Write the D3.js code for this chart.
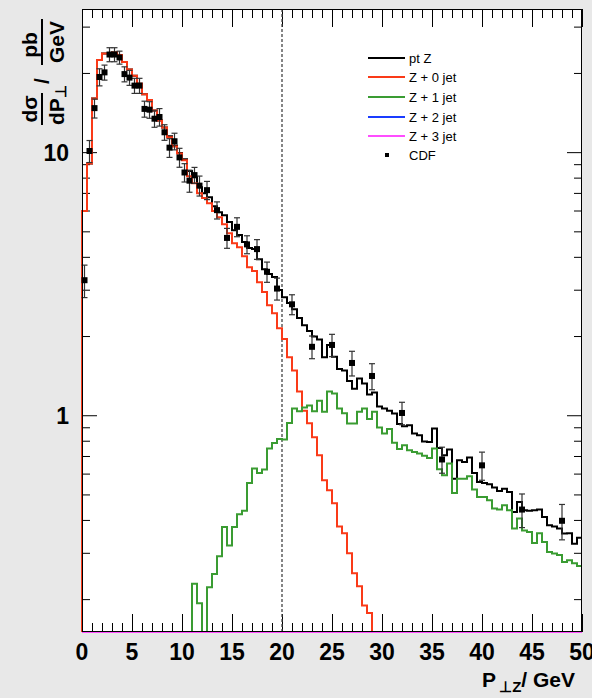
<!DOCTYPE html>
<html>
<head>
<meta charset="utf-8">
<script src="https://cdn.jsdelivr.net/npm/d3@7"></script>
<style>
body { margin: 0; background: #e8e8e8; }
svg { display: block; font-family: "Liberation Sans", Arial, Helvetica, sans-serif; }
</style>
</head>
<body>
<div id="main"></div>
<script>
// histogram bins: 0.5 GeV wide, from 0 to 50 GeV
const binWidth = 0.5;

const ptZ = [
  5.98, 9.06, 16.0, 22.4, 23.7, 23.7, 23.9, 23.4, 22.0, 20.6,
  19.5, 18.2, 16.6, 15.8, 14.4, 13.2, 12.4, 11.5, 10.6, 9.92,
  9.4, 8.47, 8.03, 7.36, 6.98, 6.74, 6.23, 5.91, 5.76, 5.42,
  5.05, 4.84, 4.55, 4.32, 4.28, 3.92, 3.59, 3.44, 3.35, 2.99,
  2.81, 2.67, 2.53, 2.34, 2.20, 2.09, 1.99, 1.94, 1.66, 1.85,
  1.67, 1.50, 1.48, 1.35, 1.26, 1.38, 1.32, 1.20, 1.22, 1.08,
  1.06, 1.04, 1.015, 0.927, 0.908, 0.916, 0.852, 0.839, 0.795, 0.792,
  0.890, 0.75, 0.705, 0.741, 0.574, 0.674, 0.664, 0.691, 0.603, 0.558,
  0.553, 0.547, 0.531, 0.515, 0.526, 0.511, 0.429, 0.468, 0.435, 0.433,
  0.435, 0.438, 0.410, 0.382, 0.378, 0.371, 0.355, 0.356, 0.325, 0.342
];

const zJet0 = [
  5.98, 9.06, 16.0, 22.4, 23.7, 23.7, 23.9, 23.4, 22.0, 20.6,
  19.5, 18.2, 16.6, 15.8, 14.4, 13.2, 12.4, 11.4, 10.5, 9.89,
  9.32, 8.10, 7.62, 6.98, 6.69, 6.40, 5.97, 5.66, 5.32, 4.92,
  4.51, 4.35, 4.02, 3.65, 3.53, 3.20, 2.94, 2.62, 2.44, 2.14,
  1.95, 1.66, 1.48, 1.23, 1.04, 0.932, 0.825, 0.705, 0.566, 0.519,
  0.463, 0.378, 0.356, 0.299, 0.251, 0.224, 0.189, 0.177, 0, 0,
  0, 0, 0, 0, 0, 0, 0, 0, 0, 0,
  0, 0, 0, 0, 0, 0, 0, 0, 0, 0,
  0, 0, 0, 0, 0, 0, 0, 0, 0, 0,
  0, 0, 0, 0, 0, 0, 0, 0, 0, 0
];

const zJet1 = [
  0, 0, 0, 0, 0, 0, 0, 0, 0, 0,
  0, 0, 0, 0, 0, 0, 0, 0, 0, 0,
  0, 0, 0.229, 0.193, 0, 0.222, 0.249, 0.291, 0.376, 0.320,
  0.376, 0.420, 0.433, 0.553, 0.627, 0.603, 0.622, 0.747, 0.785, 0.813,
  0.809, 0.935, 1.06, 1.035, 1.07, 1.09, 1.035, 1.135, 1.03, 1.23,
  1.21, 1.06, 1.018, 0.930, 0.930, 1.03, 1.06, 0.967, 1.03, 0.899,
  0.852, 0.886, 0.786, 0.744, 0.769, 0.736, 0.725, 0.715, 0.701, 0.688,
  0.747, 0.623, 0.591, 0.655, 0.506, 0.574, 0.574, 0.586, 0.522, 0.489,
  0.489, 0.475, 0.442, 0.438, 0.455, 0.435, 0.371, 0.405, 0.365, 0.360,
  0.327, 0.356, 0.330, 0.302, 0.298, 0.294, 0.277, 0.281, 0.274, 0.267
];

// Z+2 and Z+3 jets stay below the lower edge of the plot
const zJet2 = [
  0, 0, 0, 0, 0, 0, 0, 0, 0, 0, 0, 0, 0, 0, 0, 0, 0, 0, 0, 0,
  0, 0, 0, 0, 0, 0, 0, 0, 0, 0, 0, 0, 0, 0, 0, 0, 0, 0, 0, 0,
  0, 0, 0, 0, 0, 0, 0, 0, 0, 0, 0, 0, 0, 0, 0, 0, 0, 0, 0, 0,
  0, 0, 0, 0, 0, 0, 0, 0, 0, 0, 0, 0, 0, 0, 0, 0, 0, 0, 0, 0,
  0, 0, 0, 0, 0, 0, 0, 0, 0, 0, 0, 0, 0, 0, 0, 0, 0, 0, 0, 0
];
const zJet3 = [
  0, 0, 0, 0, 0, 0, 0, 0, 0, 0, 0, 0, 0, 0, 0, 0, 0, 0, 0, 0,
  0, 0, 0, 0, 0, 0, 0, 0, 0, 0, 0, 0, 0, 0, 0, 0, 0, 0, 0, 0,
  0, 0, 0, 0, 0, 0, 0, 0, 0, 0, 0, 0, 0, 0, 0, 0, 0, 0, 0, 0,
  0, 0, 0, 0, 0, 0, 0, 0, 0, 0, 0, 0, 0, 0, 0, 0, 0, 0, 0, 0,
  0, 0, 0, 0, 0, 0, 0, 0, 0, 0, 0, 0, 0, 0, 0, 0, 0, 0, 0, 0
];

// CDF data points
const cdfX = [0.25, 0.75, 1.25, 1.75, 2.25, 2.75, 3.25, 3.75, 4.25, 4.75,
  5.25, 5.75, 6.25, 6.75, 7.25, 7.75, 8.25, 8.75, 9.25, 9.75,
  10.25, 10.75, 11.25, 11.75, 12.5, 13.5, 14.5, 15.5, 16.5, 17.5,
  18.5, 19.5, 21, 23, 25, 27, 29, 32, 36, 40, 44, 48];
const cdfY = [3.26, 10.1, 14.7, 19.3, 20.1, 23.5, 23.5, 22.9, 19.8, 19.2,
  17.9, 17.9, 14.6, 14.5, 13.4, 13.6, 11.9, 10.4, 11.0, 9.55,
  8.37, 7.79, 8.18, 7.46, 7.17, 6.02, 4.72, 5.20, 4.46, 4.28,
  3.51, 3.03, 2.64, 1.82, 1.85, 1.58, 1.41, 1.02, 0.679, 0.645, 0.438, 0.397];
const cdfErr = [0.46, 0.97, 1.22, 1.44, 1.32, 1.44, 1.44, 1.3, 1.3, 1.26,
  1.18, 1.18, 1.02, 1.05, 0.97, 1.04, 0.81, 0.85, 0.80, 0.79,
  0.67, 0.75, 0.57, 0.65, 0.57, 0.45, 0.41, 0.43, 0.35, 0.37,
  0.31, 0.29, 0.23, 0.18, 0.18, 0.17, 0.16, 0.10, 0.077, 0.079, 0.064, 0.061];

const xMajorTicks = [0, 5, 10, 15, 20, 25, 30, 35, 40, 45, 50];
const yMajorTicks = [1, 10];
const yMinorTicks = [0.2, 0.3, 0.4, 0.5, 0.6, 0.7, 0.8, 0.9, 2, 3, 4, 5, 6, 7, 8, 9, 20, 30];
const cutValue = 20;

const seriesNames = ["pt Z", "Z + 0 jet", "Z + 1 jet", "Z + 2 jet", "Z + 3 jet"];
const seriesData = [ptZ, zJet0, zJet1, zJet2, zJet3];
const seriesColors = ["#000000", "#fa3a18", "#3a9c32", "#1a3cff", "#ff4dff"];

const W = 592, H = 698;
const margin = {top: 9, right: 10, bottom: 66, left: 82};
const plotW = W - margin.left - margin.right;
const plotH = H - margin.top - margin.bottom;

const svg = d3.select("#main").append("svg")
    .attr("width", W)
    .attr("height", H);

svg.append("rect").attr("width", W).attr("height", H).attr("fill", "#e8e8e8");

const g = svg.append("g")
    .attr("transform", "translate(" + margin.left + "," + margin.top + ")");

const x = d3.scaleLinear().domain([0, 50]).range([0, plotW]);
const y = d3.scaleLog().domain([0.15, 35]).range([plotH, 0]);

g.append("rect")
    .attr("width", plotW).attr("height", plotH)
    .attr("fill", "white");

// clamp into the frame, values below range sit on the lower edge
function yc(v){
    if (v <= y.domain()[0]) return plotH;
    return Math.max(0, y(v));
}

function histPath(vals){
    let pts = [[x(0), plotH]];
    vals.forEach((v, i) => {
        pts.push([x(i * binWidth), yc(v)]);
        pts.push([x((i + 1) * binWidth), yc(v)]);
    });
    return d3.line()(pts);
}

// ticks (inside pointing, ROOT style)
function drawTicks(axis, cls, transform){
    const a = g.append("g").attr("class", cls).attr("transform", transform).call(axis);
    a.select(".domain").remove();
    a.selectAll(".tick line").attr("stroke", "#000").attr("stroke-width", 1);
    return a;
}

const xMinor = d3.range(0, 51, 1).filter(d => d % 5 !== 0);

drawTicks(d3.axisBottom(x).tickValues(xMajorTicks).tickSize(-18).tickFormat(""), "xt", "translate(0," + plotH + ")");
drawTicks(d3.axisBottom(x).tickValues(xMinor).tickSize(-9).tickFormat(""), "xt", "translate(0," + plotH + ")");
drawTicks(d3.axisTop(x).tickValues(xMajorTicks).tickSize(-18).tickFormat(""), "xt", "translate(0,0)");
drawTicks(d3.axisTop(x).tickValues(xMinor).tickSize(-9).tickFormat(""), "xt", "translate(0,0)");
drawTicks(d3.axisLeft(y).tickValues(yMajorTicks).tickSize(-15).tickFormat(""), "yt", "translate(0,0)");
drawTicks(d3.axisLeft(y).tickValues(yMinorTicks).tickSize(-8).tickFormat(""), "yt", "translate(0,0)");
drawTicks(d3.axisRight(y).tickValues(yMajorTicks).tickSize(-15).tickFormat(""), "yt", "translate(" + plotW + ",0)");
drawTicks(d3.axisRight(y).tickValues(yMinorTicks).tickSize(-8).tickFormat(""), "yt", "translate(" + plotW + ",0)");

// tick labels
g.selectAll(".xlab")
    .data(xMajorTicks)
    .enter().append("text")
    .attr("x", d => x(d))
    .attr("y", plotH + 28)
    .attr("text-anchor", "middle")
    .attr("font-size", 23)
    .attr("font-weight", "bold")
    .text(d => d);

g.selectAll(".ylab")
    .data(yMajorTicks)
    .enter().append("text")
    .attr("x", -13)
    .attr("y", d => y(d) + 9)
    .attr("text-anchor", "end")
    .attr("font-size", 23)
    .attr("font-weight", "bold")
    .text(d => d);

// cut line at 20 GeV
g.append("line")
    .attr("x1", x(cutValue)).attr("x2", x(cutValue))
    .attr("y1", 0).attr("y2", plotH)
    .attr("stroke", "#444")
    .attr("stroke-width", 1.3)
    .attr("stroke-dasharray", "3,2");

// histograms
seriesData.forEach((vals, i) => {
    g.append("path")
        .attr("d", histPath(vals))
        .attr("fill", "none")
        .attr("stroke", seriesColors[i])
        .attr("stroke-width", 2);
});

// CDF points with error bars
const cdf = cdfX.map((d, i) => ({x: d, y: cdfY[i], e: cdfErr[i]}));

g.selectAll(".err")
    .data(cdf)
    .enter().append("line")
    .attr("x1", d => x(d.x)).attr("x2", d => x(d.x))
    .attr("y1", d => y(d.y + d.e)).attr("y2", d => y(d.y - d.e))
    .attr("stroke", "#333").attr("stroke-width", 1.2);

[1, -1].forEach(s => {
    g.selectAll(".cap")
        .data(cdf)
        .enter().append("line")
        .attr("x1", d => x(d.x) - 3).attr("x2", d => x(d.x) + 3)
        .attr("y1", d => y(d.y + s * d.e)).attr("y2", d => y(d.y + s * d.e))
        .attr("stroke", "#333").attr("stroke-width", 1.2);
});

g.selectAll(".pt")
    .data(cdf)
    .enter().append("rect")
    .attr("x", d => x(d.x) - 3).attr("y", d => y(d.y) - 3)
    .attr("width", 6).attr("height", 6)
    .attr("fill", "#000");

// frame
g.append("rect")
    .attr("x", 0.5).attr("y", 0.5)
    .attr("width", plotW - 1).attr("height", plotH - 1)
    .attr("fill", "none").attr("stroke", "#000").attr("stroke-width", 1);

// legend
const legY = [58, 77, 97, 117, 136];
const leg = svg.append("g");
seriesNames.forEach((name, i) => {
    leg.append("line")
        .attr("x1", 368).attr("x2", 405)
        .attr("y1", legY[i]).attr("y2", legY[i])
        .attr("stroke", seriesColors[i]).attr("stroke-width", 2);
    leg.append("text")
        .attr("x", 409).attr("y", legY[i] + 5)
        .attr("font-size", 13)
        .text(name);
});
leg.append("rect").attr("x", 385).attr("y", 153).attr("width", 4).attr("height", 4).attr("fill", "#000");
leg.append("text").attr("x", 409).attr("y", 160).attr("font-size", 13).text("CDF");

// x axis title
const xt = svg.append("text")
    .attr("x", 575).attr("y", 687)
    .attr("text-anchor", "end")
    .attr("font-size", 21)
    .attr("font-weight", "bold");
xt.append("tspan").text("P");
xt.append("tspan").attr("font-size", 15).attr("dy", 5).attr("dx", 3).text("⊥Z");
xt.append("tspan").attr("dy", -5).text("/ GeV");

// y axis title: dσ/dP⊥ / pb/GeV
const yt = svg.append("g")
    .attr("transform", "translate(42,125)rotate(-90)")
    .attr("font-size", 21)
    .attr("font-weight", "bold");
yt.append("text").attr("x", 16).attr("y", -5).attr("text-anchor", "middle").text("dσ");
yt.append("line").attr("x1", 0).attr("x2", 32).attr("y1", 0).attr("y2", 0).attr("stroke", "#000").attr("stroke-width", 2);
const den = yt.append("text").attr("x", 0).attr("y", 22);
den.append("tspan").text("dP");
den.append("tspan").attr("font-size", 15).attr("dy", 2).text("⊥");
yt.append("text").attr("x", 44).attr("y", 7).attr("text-anchor", "middle").text("/");
yt.append("text").attr("x", 80).attr("y", -5).attr("text-anchor", "middle").text("pb");
yt.append("line").attr("x1", 60).attr("x2", 106).attr("y1", 0).attr("y2", 0).attr("stroke", "#000").attr("stroke-width", 2);
yt.append("text").attr("x", 83).attr("y", 22).attr("text-anchor", "middle").text("GeV");
</script>
</body>
</html>
